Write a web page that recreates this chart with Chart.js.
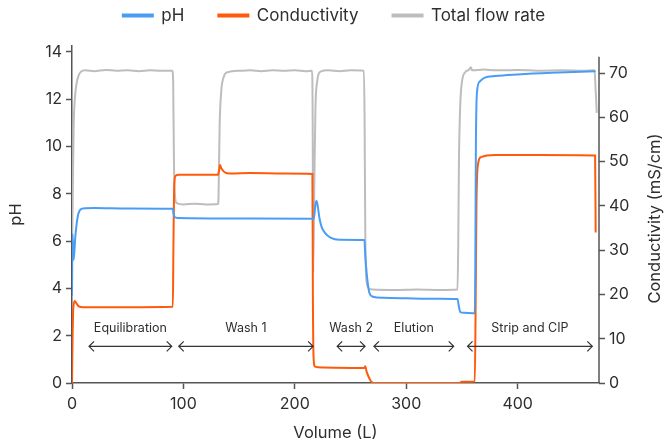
<!DOCTYPE html>
<html><head><meta charset="utf-8">
<script src="https://cdn.jsdelivr.net/npm/chart.js@4.4.1/dist/chart.umd.min.js"></script>
<style>html,body{margin:0;padding:0;background:#fff}#wrap{width:668px;height:444px}</style>
</head><body><div id="wrap"><canvas id="c" width="668" height="444"></canvas></div>
<script>
// ---- data ----
const seriesNames = ['pH', 'Conductivity', 'Total flow rate'];

const phVol = [0,0.5,1.5,3,5,7,10,20,50,90.5,91,92,95,150,215.5,216.5,217.5,218.5,219.5,220.5,222,224,227,232,240,262.5,263,264,265.5,267,270,280,300,330,346,347,348.5,352,361.5,362,362.5,363.5,366,370,380,400,430,470];
const phVal = [3.7,6.3,5.2,6.2,7.0,7.3,7.38,7.4,7.38,7.37,7.2,7.02,6.98,6.96,6.95,6.92,7.1,7.55,7.7,7.5,7.0,6.6,6.35,6.15,6.06,6.05,5.6,4.9,4.2,3.8,3.65,3.6,3.58,3.56,3.55,3.3,3.0,2.97,2.95,5.0,10.0,12.3,12.75,12.9,12.98,13.05,13.12,13.18];

const condVol = [0,0.5,1.2,2.5,4,6,10,50,90.5,91,91.8,93,96,131,132,132.8,134,137,142,160,190,215.8,216.2,216.8,218,225,262.5,263.2,264.5,268,270.5,300,348,349.5,361.5,362.2,363,364.5,367,380,420,469.5,470];
const condVal = [0,10,17,18.5,18,17.3,17.1,17.1,17.2,30,45,46.8,47.0,47.0,48,49.2,48.5,47.6,47.3,47.4,47.3,47.2,20,6,3.7,3.5,3.4,3.8,2.5,0.5,0,0,0,0.3,0.35,15,40,49.5,51,51.5,51.5,51.4,34];

const flowVol = [0,0.8,1.5,2.5,4,6,8,12,20,30,40,50,60,70,80,90,90.8,91.5,92.5,94,100,110,120,131,131.5,132.5,134,136,140,150,160,170,180,190,200,210,215.5,216,216.5,217.5,218.5,220,223,230,240,250,262,262.6,263.2,264,266,270,290,310,330,346,346.6,347.3,348.5,350,353,356,358,359,370,380,400,420,440,460,469,470,471];
const flowVal = [28,45,58,64,67.5,69.5,70.3,70.6,70.4,70.7,70.5,70.6,70.4,70.6,70.5,70.5,68,50,42,40.6,40.3,40.5,40.3,40.4,42,58,66,69,70.2,70.5,70.6,70.4,70.6,70.5,70.6,70.4,70.5,60,25,45,62,68,70.3,70.6,70.4,70.6,70.5,60,35,24,21.5,21.1,21.0,21.1,21.0,21.1,30,50,63,68,70.2,70.7,71.3,70.6,70.8,70.6,70.7,70.5,70.6,70.5,70.6,66,61];

const phaseNames = ['Equilibration', 'Wash 1', 'Wash 2', 'Elution', 'Strip and CIP'];
const phaseStart = [15.3, 95.8, 238, 271, 355];
const phaseEnd = [89.5, 216.4, 263, 342.6, 467];

const xTicks = [0, 100, 200, 300, 400];
const phTicks = [0, 2, 4, 6, 8, 10, 12, 14];
const condTicks = [0, 10, 20, 30, 40, 50, 60, 70];

// ---- build ----
const toPts = (xs, ys) => xs.map((x, i) => ({x, y: ys[i]}));
const FONT = 'Inter, "Noto Sans", sans-serif';
const TXT = '#2e2e2e';
const AX = '#555555';

const annotPlugin = {
  id: 'annot',
  afterDatasetsDraw(chart) {
    const ctx = chart.ctx, xs = chart.scales.x, ys = chart.scales.y;
    const ay = ys.getPixelForValue(1.55), ly = ys.getPixelForValue(2.32);
    ctx.save();
    ctx.strokeStyle = '#333'; ctx.lineWidth = 1.2; ctx.fillStyle = TXT;
    ctx.font = '12.5px ' + FONT; ctx.textAlign = 'center'; ctx.textBaseline = 'middle';
    phaseNames.forEach((n, i) => {
      const a = xs.getPixelForValue(phaseStart[i]), b = xs.getPixelForValue(phaseEnd[i]);
      ctx.beginPath(); ctx.moveTo(a, ay); ctx.lineTo(b, ay);
      ctx.moveTo(a + 5, ay - 5); ctx.lineTo(a, ay); ctx.lineTo(a + 5, ay + 5);
      ctx.moveTo(b - 5, ay - 5); ctx.lineTo(b, ay); ctx.lineTo(b - 5, ay + 5);
      ctx.stroke();
      ctx.fillText(n, (a + b) / 2, ly);
    });
    ctx.restore();
  },
  afterDraw(chart) {
    const ctx = chart.ctx, y2 = chart.scales.y2;
    ctx.save();
    ctx.strokeStyle = AX; ctx.lineWidth = 1.5;
    ctx.beginPath(); ctx.moveTo(y2.left, y2.getPixelForValue(73.7)); ctx.lineTo(y2.left, chart.chartArea.bottom); ctx.stroke();
    ctx.translate(655, (chart.chartArea.top + chart.chartArea.bottom) / 2 + 4);
    ctx.rotate(-Math.PI / 2);
    ctx.fillStyle = TXT; ctx.font = '16.5px ' + FONT; ctx.textAlign = 'center'; ctx.textBaseline = 'middle';
    ctx.fillText('Conductivity (mS/cm)', 0, 0);
    ctx.restore();
  },
  beforeLayout(chart) {
    const lg = chart.legend;
    if (lg && !lg._patched) {
      const of = lg.fit, od = lg.draw;
      lg.fit = function () { of.call(this); this.height = 46; };
      lg.draw = function () {
        const t = this.top;
        this.top = t - 27;
        od.call(this);
        this.top = t;
      };
      lg._patched = true;
    }
  }
};

const onlyTicks = (list) => (scale) => { scale.ticks = list.map(v => ({value: v})); };

new Chart(document.getElementById('c'), {
  type: 'line',
  data: {
    datasets: [
      {label: seriesNames[0], data: toPts(phVol, phVal), yAxisID: 'y', borderColor: '#4A9DF5', backgroundColor: '#4A9DF5'},
      {label: seriesNames[1], data: toPts(condVol, condVal), yAxisID: 'y2', borderColor: '#FF5A0A', backgroundColor: '#FF5A0A'},
      {label: seriesNames[2], data: toPts(flowVol, flowVal), yAxisID: 'y2', borderColor: '#BDBDBD', backgroundColor: '#BDBDBD'}
    ]
  },
  options: {
    responsive: false, animation: false,
    datasets: {line: {pointRadius: 0, borderWidth: 2, cubicInterpolationMode: 'monotone', fill: false}},
    layout: {padding: 0},
    plugins: {
      legend: {
        position: 'top', align: 'center',
        labels: {boxWidth: 30, boxHeight: 2, padding: 34, color: TXT, font: {family: FONT, size: 17}}
      },
      tooltip: {enabled: false}
    },
    scales: {
      x: {
        type: 'linear', min: 0, max: 473,
        afterBuildTicks: onlyTicks(xTicks),
        afterFit: (s) => { s.height = 61; },
        border: {display: true, color: AX, width: 1.5},
        grid: {display: true, drawOnChartArea: false, drawTicks: true, tickLength: 6, tickColor: AX, tickWidth: 1.5},
        ticks: {color: TXT, font: {family: FONT, size: 16}, padding: 6, maxRotation: 0},
        title: {display: true, text: 'Volume (L)', color: TXT, font: {family: FONT, size: 16.5}, padding: {top: 2, bottom: 1}}
      },
      y: {
        type: 'linear', position: 'left', min: 0, max: 14.25,
        afterBuildTicks: onlyTicks(phTicks),
        afterFit: (s) => { s.width = 72; },
        border: {display: true, color: AX, width: 1.5},
        grid: {display: true, drawOnChartArea: false, drawTicks: true, tickLength: 6, tickColor: AX, tickWidth: 1.5},
        ticks: {color: TXT, font: {family: FONT, size: 16}, padding: 4},
        title: {display: true, text: 'pH', color: TXT, font: {family: FONT, size: 16.5}, padding: {top: 6, bottom: 0}}
      },
      y2: {
        type: 'linear', position: 'right', min: 0, max: 76.1,
        afterBuildTicks: onlyTicks(condTicks),
        afterFit: (s) => { s.width = 69; },
        border: {display: false},
        grid: {display: true, drawOnChartArea: false, drawTicks: true, tickLength: 6, tickColor: AX, tickWidth: 1.5},
        ticks: {color: TXT, font: {family: FONT, size: 16}, padding: 4},
        title: {display: false}
      }
    }
  },
  plugins: [annotPlugin]
});
</script>
</body></html>
